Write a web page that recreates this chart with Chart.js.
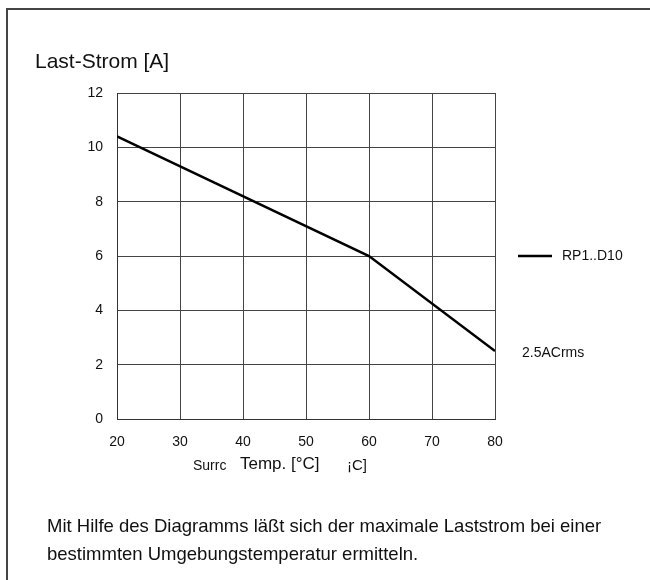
<!DOCTYPE html>
<html>
<head>
<meta charset="utf-8">
<script src="https://cdn.jsdelivr.net/npm/chart.js@4"></script>
<style>
  body { margin: 0; background: #fff; font-family: "Liberation Sans", Arial, sans-serif; }
  #wrap { position: relative; width: 650px; height: 580px; overflow: hidden; }
  #frame { position: absolute; left: 6px; top: 8px; width: 700px; height: 700px;
           border-left: 2px solid #444; border-top: 2px solid #444; }
  canvas { position: absolute; left: 0; top: 0; }
  .txt { position: absolute; color: #111; white-space: nowrap; }
</style>
</head>
<body>
<div id="wrap">
  <div id="frame"></div>
  <canvas id="chart" width="650" height="580"></canvas>
  <div class="txt" style="left:35px; top:49px; font-size:21px; line-height:24px;">Last-Strom [A]</div>
  <div class="txt" style="left:193px; top:457px; font-size:14px;">Surrc</div>
  <div class="txt" style="left:240px; top:454px; font-size:17px;">Temp. [°C]</div>
  <div class="txt" style="left:347px; top:456px; font-size:15px;">¡C]</div>
  <div class="txt" style="left:47px; top:512px; font-size:18.5px; line-height:28px;">Mit Hilfe des Diagramms läßt sich der maximale Laststrom bei einer<br>bestimmten Umgebungstemperatur ermitteln.</div>
</div>
<script>
// values
let temps = [20, 60, 80];
let current = [10.4, 6.0, 2.5];
let seriesName = "RP1..D10";
let endNote = "2.5ACrms";

// legend + end label, drawn next to the plot
let sideLabels = {
  id: "sideLabels",
  afterDraw: function(chart) {
    let ctx = chart.ctx;
    let area = chart.chartArea;
    let y = chart.scales.y;
    ctx.save();
    ctx.strokeStyle = "#000";
    ctx.lineWidth = 2.5;
    ctx.beginPath();
    ctx.moveTo(area.right + 23, y.getPixelForValue(6));
    ctx.lineTo(area.right + 57, y.getPixelForValue(6));
    ctx.stroke();
    ctx.fillStyle = "#111";
    ctx.font = "14px 'Liberation Sans', Arial, sans-serif";
    ctx.textBaseline = "middle";
    ctx.fillText(seriesName, area.right + 67, y.getPixelForValue(6));
    ctx.fillText(endNote, area.right + 27, y.getPixelForValue(current[current.length - 1]) + 2);
    ctx.restore();
  }
};

let ctx = document.getElementById("chart").getContext("2d");
let chart = new Chart(ctx, {
  type: "line",
  data: {
    datasets: [{
      label: seriesName,
      data: temps.map(function(t, i) { return { x: t, y: current[i] }; }),
      borderColor: "#000",
      borderWidth: 2.5,
      pointRadius: 0,
      tension: 0
    }]
  },
  options: {
    responsive: false,
    animation: false,
    layout: { padding: { top: 93, right: 155, left: 0, bottom: 0 } },
    plugins: { legend: { display: false }, tooltip: { enabled: false } },
    scales: {
      x: {
        type: "linear",
        min: 20, max: 80,
        ticks: { stepSize: 10, color: "#111", padding: 15,
                 font: { family: "'Liberation Sans', Arial, sans-serif", size: 14 } },
        grid: { color: "#444", lineWidth: 1, drawTicks: false },
        border: { color: "#333", width: 1 },
        afterFit: function(scale) { scale.height = 161; }
      },
      y: {
        min: 0, max: 12,
        ticks: { stepSize: 2, color: "#111", padding: 14,
                 font: { family: "'Liberation Sans', Arial, sans-serif", size: 14 } },
        grid: { color: "#444", lineWidth: 1, drawTicks: false },
        border: { color: "#333", width: 1 },
        afterFit: function(scale) { scale.width = 117; }
      }
    }
  },
  plugins: [sideLabels]
});
</script>
</body>
</html>
